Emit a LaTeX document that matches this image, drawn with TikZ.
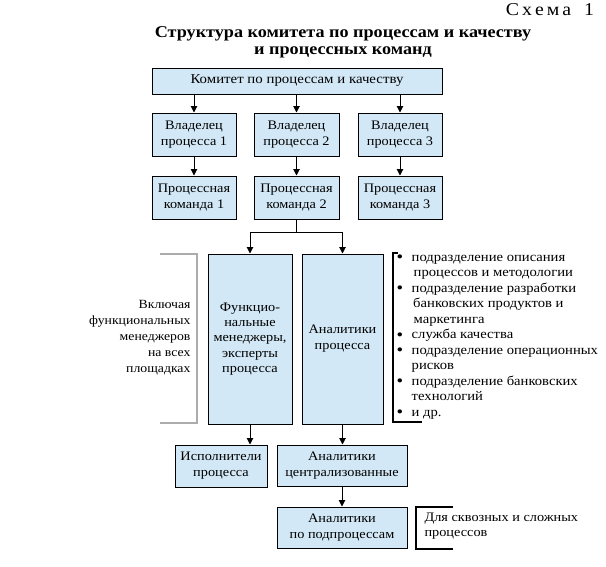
\documentclass[tikz,border=0pt]{standalone}
\usepackage{fontspec}
\setmainfont{Liberation Serif}[FakeStretch=1.1]
\usetikzlibrary{arrows.meta}
\definecolor{blokfill}{RGB}{210,232,246}
\newcommand{\punkt}{\smash{\raisebox{-1.8pt}{\fontsize{17}{15}\selectfont\textbullet}}}
\tikzset{
    blok/.style={draw, fill=blokfill, line width=1pt, align=center, inner sep=1pt,
        font=\fontsize{13}{16}\selectfont},
    strel/.style={line width=1pt, -{Triangle[length=6.5pt,width=6.5pt]}},
    skobka/.style={line width=1.1pt}
}

\begin{document}
\begin{tikzpicture}[x=1pt, y=-1pt]
    \path[use as bounding box] (0,0) rectangle (606,566);

    \node (shema) at (550,10)[font=\fontsize{18}{20}\selectfont]{С\kern3pt х\kern3pt е\kern3pt м\kern3pt а\kern3pt\ \ 1};
    \node (zag) at (343,42)[font=\bfseries\fontsize{16.5}{17}\selectfont, align=center]
        {Структура комитета по процессам и качеству\\и процессных команд};

    \node (kom) at (297,81)[blok, minimum width=290pt, minimum height=26pt, font=\fontsize{13.5}{16}\selectfont]
        {Комитет по процессам и качеству};

    \foreach \i/\x/\w in {1/194/84,2/296.5/85,3/400/84}{
        \node (vl\i) at (\x,134.5)[blok, minimum width=\w pt, minimum height=43pt]{Владелец\\процесса \i};
        \node (pk\i) at (\x,197.5)[blok, minimum width=\w pt, minimum height=43pt]{Процессная\\команда \i};
        \draw[strel] (kom.south -| vl\i) -- (vl\i.north);
        \draw[strel] (vl\i) -- (pk\i);
    }

    \node (fm) at (250,339)[blok, minimum width=84pt, minimum height=170pt, font=\fontsize{13}{15.25}\selectfont]
        {Функцио-\\нальные\\менеджеры,\\эксперты\\процесса};
    \node (an) at (342.5,339)[blok, minimum width=81pt, minimum height=170pt]{Аналитики\\процесса};

    \coordinate (razv) at (296.5,232);
    \draw[line width=1pt] (pk2.south) -- (razv);
    \draw[strel] (razv) -| (fm.north);
    \draw[strel] (razv) -| (an.north);

    \node (isp) at (221,466)[blok, minimum width=92pt, minimum height=42pt]{Исполнители\\процесса};
    \node (anc) at (342,465.5)[blok, minimum width=130pt, minimum height=41pt]{Аналитики\\централизованные};
    \node (anp) at (342,527.5)[blok, minimum width=130pt, minimum height=41pt]{Аналитики\\по подпроцессам};

    \draw[strel] (fm.south) -- (fm.south |- isp.north);
    \draw[strel] (an.south) -- (an.south |- anc.north);
    \draw[strel] (anc) -- (anp);

    % skobki i poyasneniya
    \draw[skobka, gray!65] (160,254) -- (197,254) -- (197,423) -- (160,423);
    \node (vkl) at (194,338)[anchor=east, align=right, font=\fontsize{12.5}{16}\selectfont]
        {Включая\\функциональных\\менеджеров\\на всех\\площадках};

    \draw[skobka] (398,253) -- (393,253) -- (393,422) -- (422,422);
    \node (spis) at (396.5,335.5)[anchor=west, inner sep=0pt, font=\fontsize{13.3}{15.5}\selectfont]{%
        \begin{tabular}{@{}l@{\hspace{8.5pt}}l@{}}
        \punkt & подразделение описания\\
               & \hspace{2pt}процессов и методологии\\
        \punkt & подразделение разработки\\
               & \hspace{1.5pt}банковских продуктов и\\
               & \hspace{2pt}маркетинга\\
        \punkt & служба качества\\
        \punkt & подразделение операционных\\
               & рисков\\
        \punkt & подразделение банковских\\
               & технологий\\
        \punkt & и др.
        \end{tabular}};

    \draw[skobka] (453,507) -- (416,507) -- (416,549) -- (453,549);
    \node (skv) at (421,526.5)[anchor=west, align=left, font=\fontsize{13}{15}\selectfont]
        {Для сквозных и сложных\\процессов};
\end{tikzpicture}
\end{document}
